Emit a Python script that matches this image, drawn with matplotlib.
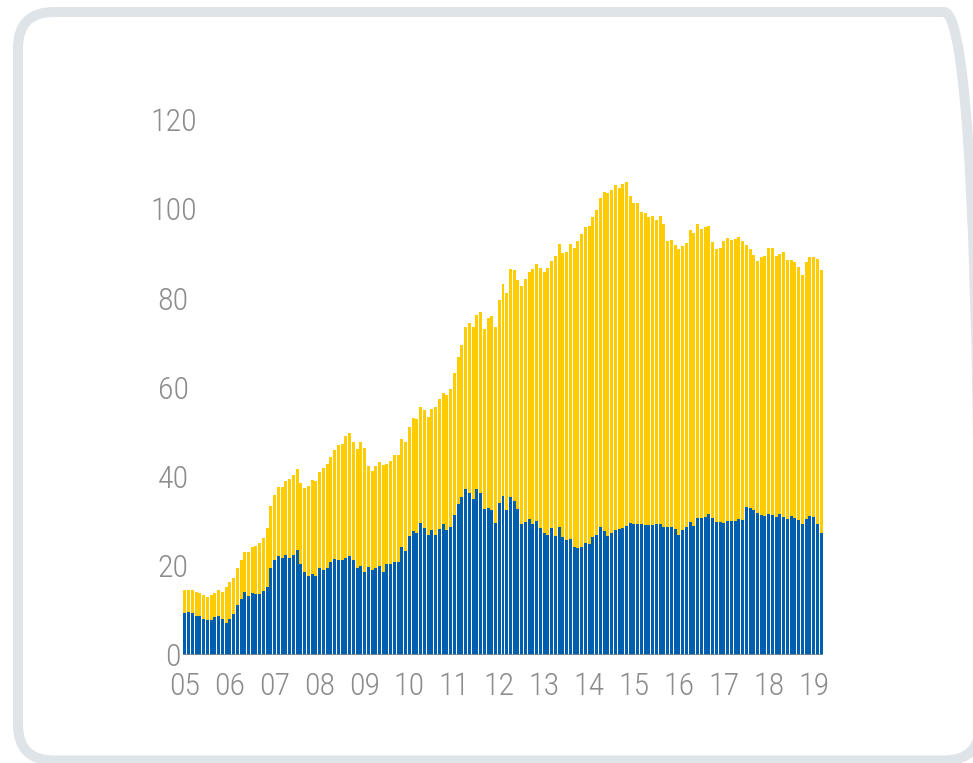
import matplotlib
matplotlib.use('Agg')
import matplotlib.pyplot as plt
from matplotlib.patches import FancyBboxPatch
from matplotlib.transforms import IdentityTransform
import numpy as np

# monthly values, Jan 2005 - Mar 2019
total = [14.6, 14.6, 14.6, 14.2, 14.0, 13.5, 13.1, 13.5, 14.0, 14.6,
         14.2, 15.3, 16.4, 17.3, 19.6, 21.2, 23.0, 23.0, 24.3, 24.5,
         25.2, 26.3, 28.4, 33.3, 35.8, 37.6, 37.6, 38.9, 39.4, 40.3,
         41.6, 38.5, 37.4, 37.8, 39.2, 38.9, 41.0, 41.9, 42.8, 44.3,
         45.9, 47.0, 47.3, 49.1, 49.7, 47.7, 46.1, 47.7, 46.4, 42.3,
         41.2, 42.3, 43.2, 42.5, 42.8, 43.4, 44.8, 44.8, 48.4, 47.7,
         51.1, 53.1, 52.9, 55.6, 54.9, 53.3, 55.2, 55.6, 57.4, 58.8,
         58.3, 59.7, 63.1, 66.7, 69.4, 73.4, 74.5, 73.4, 76.1, 76.8,
         73.0, 75.5, 75.9, 73.4, 79.5, 83.1, 81.1, 86.5, 86.3, 84.0,
         82.7, 84.2, 85.8, 86.5, 87.6, 86.7, 85.8, 86.7, 88.3, 89.4,
         92.1, 90.1, 90.3, 92.1, 91.2, 92.8, 94.4, 95.9, 96.2, 98.2,
         99.8, 102.5, 103.8, 103.6, 104.3, 105.4, 104.7, 105.6, 105.9, 102.9,
         101.4, 101.4, 99.3, 99.1, 98.2, 98.4, 97.5, 98.4, 96.6, 92.8,
         93.0, 91.9, 91.0, 91.7, 92.3, 95.3, 94.6, 96.6, 95.5, 95.9,
         96.2, 92.6, 91.0, 91.2, 92.8, 93.5, 93.0, 93.2, 93.7, 92.8,
         91.9, 91.0, 89.6, 88.3, 89.2, 89.4, 91.2, 91.2, 89.4, 89.9,
         90.3, 88.5, 88.5, 88.1, 86.9, 85.1, 88.1, 89.2, 89.2, 88.7, 86.3]

blue = [9.45, 9.7, 9.45, 8.8, 8.8, 8.1, 7.9, 7.9, 8.55, 8.8,
        8.1, 7.2, 8.1, 9.2, 11.25, 12.6, 14.2, 13.3, 14.0, 13.7,
        13.7, 14.4, 15.3, 19.4, 21.2, 22.1, 21.8, 22.5, 21.8, 22.5,
        23.6, 20.3, 18.7, 17.6, 18.2, 17.8, 19.4, 19.1, 19.4, 20.9,
        21.6, 21.4, 21.2, 21.8, 22.1, 21.2, 19.4, 20.0, 18.5, 19.8,
        19.1, 19.6, 20.0, 18.7, 20.3, 20.3, 20.9, 20.9, 24.1, 23.2,
        26.6, 27.7, 27.3, 29.5, 28.4, 26.8, 27.9, 27.0, 28.2, 29.3,
        27.9, 28.6, 31.3, 33.8, 35.4, 37.2, 36.3, 34.9, 37.2, 36.3,
        32.7, 32.9, 32.4, 29.5, 34.0, 35.6, 32.4, 35.4, 34.5, 32.7,
        29.3, 29.7, 30.4, 29.3, 30.0, 28.4, 27.3, 26.8, 28.4, 26.6,
        28.6, 26.4, 25.7, 26.1, 24.3, 23.9, 24.3, 25.0, 24.8, 26.4,
        26.8, 28.6, 27.7, 26.6, 27.3, 27.9, 28.2, 28.4, 28.8, 29.5,
        29.3, 29.3, 29.3, 29.1, 29.1, 29.1, 29.3, 29.3, 28.6, 28.6,
        28.6, 28.2, 27.0, 27.9, 28.6, 29.7, 28.8, 30.6, 30.6, 30.9,
        31.5, 30.6, 29.7, 29.7, 29.5, 30.0, 30.0, 30.0, 30.4, 30.2,
        33.1, 32.9, 32.4, 31.8, 31.3, 31.1, 31.5, 31.3, 30.9, 31.5,
        30.9, 30.4, 31.1, 30.6, 30.2, 29.3, 30.4, 31.1, 30.9, 29.3, 27.3]

year_labels = ['05', '06', '07', '08', '09', '10', '11', '12', '13', '14',
               '15', '16', '17', '18', '19']
yticks = [0, 20, 40, 60, 80, 100, 120]

plt.rcParams['font.family'] = ['Roboto Condensed', 'DejaVu Sans']
plt.rcParams['font.stretch'] = 'condensed'
plt.rcParams['font.weight'] = 'light'

fig = plt.figure(figsize=(9.73, 7.63), dpi=100)
ax = fig.add_axes([183 / 973, 108 / 763, 640 / 973, 535.5 / 763])

x = np.arange(len(total))
ax.bar(x, total, width=0.8, color='#ffcc00', linewidth=0)
ax.bar(x, blue, width=0.8, color='#005eae', linewidth=0)
ax.axhline(0, color='#8c8c8c', lw=1.2)

ax.set_xlim(-0.5, len(total) - 0.5)
ax.set_ylim(0, 120)
for s in ax.spines.values():
    s.set_visible(False)

ax.set_xticks(np.arange(len(year_labels)) * 12)
ax.set_xticklabels(year_labels)
ax.set_yticks(yticks)
ax.set_yticklabels([str(v) for v in yticks], ha='center')
ax.tick_params(axis='both', length=0, labelsize=23, labelcolor='#8c8c8c')
ax.tick_params(axis='y', pad=7)
ax.tick_params(axis='x', pad=12)

frame = FancyBboxPatch((18, 2.5), 962, 748.5,
                       boxstyle='round,pad=0,rounding_size=36',
                       linewidth=7.2, edgecolor='#dfe4e8', facecolor='none',
                       transform=IdentityTransform())
fig.add_artist(frame)

fig.savefig('out.png', dpi=100)
